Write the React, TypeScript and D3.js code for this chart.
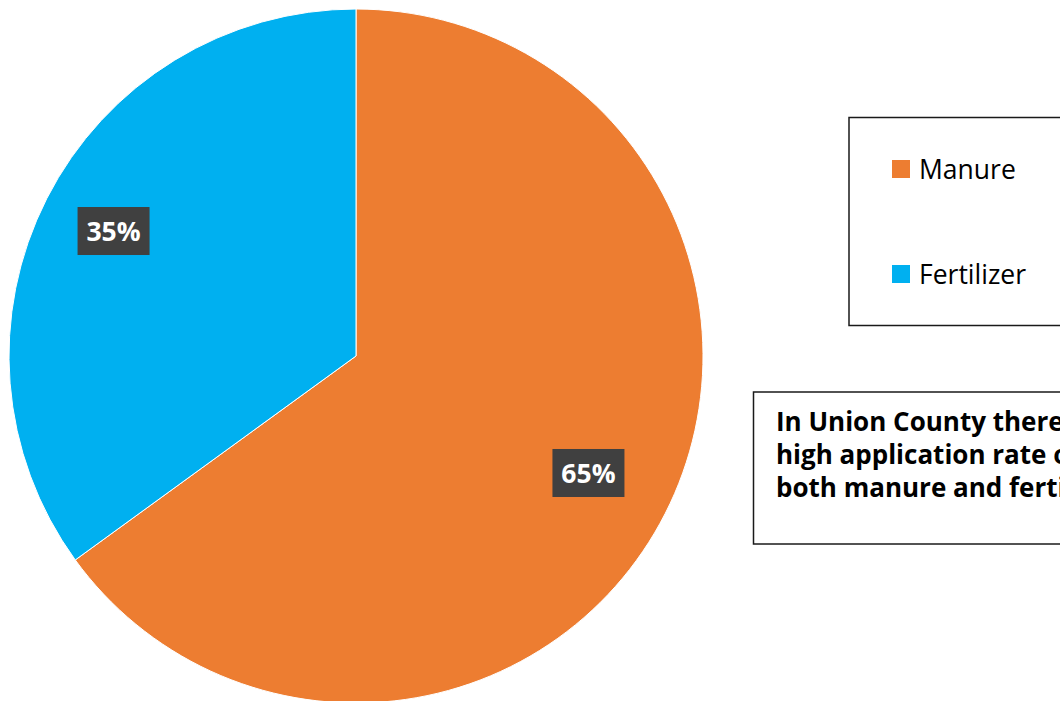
import * as d3 from "d3";
import { useEffect } from "react";

const categories = ["Manure", "Fertilizer"];
const shares = [65, 35];
const colors = ["#ED7D31", "#00B0F0"];
const noteLines = [
  "In Union County there is a",
  "high application rate of",
  "both manure and fertilizer.",
];

const width = 1060;
const height = 701;
const cx = 356;
const cy = 356;
const radius = 347;

export default function App() {
  useEffect(() => {
    document.body.style.margin = "0";
    document.body.style.overflow = "hidden";
  }, []);

  const pie = d3
    .pie<number>()
    .sort(null)
    .value((d) => d);
  const arcs = pie(shares);

  const arc = d3
    .arc<d3.PieArcDatum<number>>()
    .innerRadius(0)
    .outerRadius(radius);

  // labels sit a bit past the middle of each slice, like Excel's best fit
  const labelArc = d3
    .arc<d3.PieArcDatum<number>>()
    .innerRadius(radius * 0.768)
    .outerRadius(radius * 0.768);

  const font = "'Open Sans', sans-serif";

  return (
    <svg width={width} height={height} style={{ display: "block" }}>
      <rect width={width} height={height} fill="#ffffff" />
      <g transform={`translate(${cx},${cy})`}>
        {arcs.map((a, i) => (
          <path
            key={categories[i]}
            d={arc(a) || ""}
            fill={colors[i]}
            stroke="#ffffff"
            strokeWidth={1}
          />
        ))}
        <g transform="translate(-5,-4)">
          {arcs.map((a, i) => {
            const [lx, ly] = labelArc.centroid(a);
            return (
              <g key={"lbl" + i} transform={`translate(${lx},${ly})`}>
                <rect x={-36} y={-24} width={72} height={48} fill="#404040" />
                <text
                  y={10}
                  textAnchor="middle"
                  fill="#ffffff"
                  fontFamily={font}
                  fontWeight="bold"
                  fontSize={26.5}
                >
                  {a.data}%
                </text>
              </g>
            );
          })}
        </g>
      </g>

      {/* legend */}
      <rect
        x={849}
        y={117.5}
        width={260}
        height={208}
        fill="#ffffff"
        stroke="#1a1a1a"
        strokeWidth={1.5}
      />
      {categories.map((c, i) => (
        <g key={c} transform={`translate(892,${160 + i * 105})`}>
          <rect width={18} height={18} fill={colors[i]} />
          <text x={27} y={19} fontFamily={font} fontSize={26.5} fill="#000000">
            {c}
          </text>
        </g>
      ))}

      {/* note box */}
      <rect
        x={753.5}
        y={392}
        width={360}
        height={152}
        fill="#ffffff"
        stroke="#1a1a1a"
        strokeWidth={1.5}
      />
      <text fontFamily={font} fontWeight="bold" fontSize={26} fill="#000000">
        {noteLines.map((l, i) => (
          <tspan key={i} x={776} y={431 + i * 33}>
            {l}
          </tspan>
        ))}
      </text>
    </svg>
  );
}
